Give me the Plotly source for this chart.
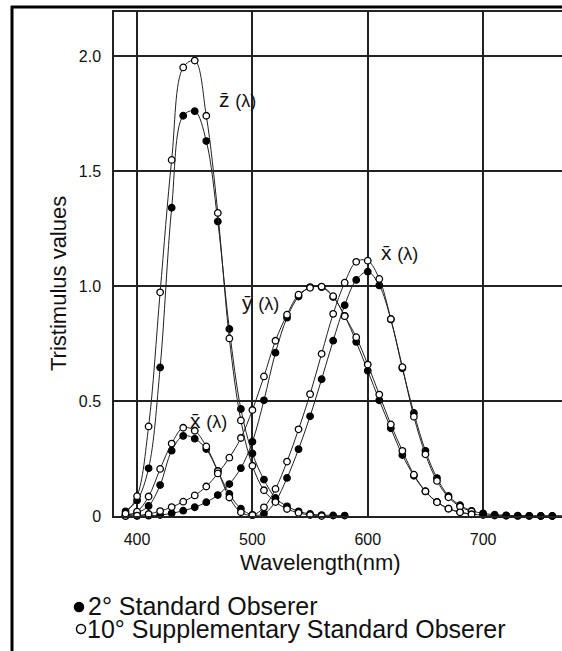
import plotly.graph_objects as go

# ---- data (10 nm steps) ----
wl2 = list(range(390, 790, 10))
x2 = [0.0042, 0.0143, 0.0435, 0.1344, 0.2839, 0.3483, 0.3362, 0.2908, 0.1954, 0.0956,
      0.0320, 0.0049, 0.0093, 0.0633, 0.1655, 0.2904, 0.4334, 0.5945, 0.7621, 0.9163,
      1.0263, 1.0622, 1.0026, 0.8544, 0.6424, 0.4479, 0.2835, 0.1649, 0.0874, 0.0468,
      0.0227, 0.0114, 0.0058, 0.0029, 0.0014, 0.0007, 0.0003, 0.0002, 0.0001, 0.0000]
y2 = [0.0001, 0.0004, 0.0012, 0.0040, 0.0116, 0.0230, 0.0380, 0.0600, 0.0910, 0.1390,
      0.2080, 0.3230, 0.5030, 0.7100, 0.8620, 0.9540, 0.9950, 0.9950, 0.9520, 0.8700,
      0.7570, 0.6310, 0.5030, 0.3810, 0.2650, 0.1750, 0.1070, 0.0610, 0.0320, 0.0170,
      0.0082, 0.0041, 0.0021, 0.0010, 0.0005, 0.0002, 0.0001, 0.0001, 0.0000, 0.0000]
wlz2 = list(range(390, 590, 10))
z2 = [0.0201, 0.0679, 0.2074, 0.6456, 1.3400, 1.7400, 1.7600, 1.6300, 1.2800, 0.8130,
      0.4652, 0.2720, 0.1582, 0.0783, 0.0422, 0.0203, 0.0088, 0.0039, 0.0021, 0.0017]

wl10 = list(range(390, 700, 10))
x10 = [0.0024, 0.0191, 0.0847, 0.2045, 0.3147, 0.3837, 0.3707, 0.3023, 0.1956, 0.0805,
       0.0162, 0.0038, 0.0375, 0.1177, 0.2365, 0.3768, 0.5298, 0.7052, 0.8787, 1.0142,
       1.1050, 1.1100, 1.0305, 0.8563, 0.6475, 0.4316, 0.2683, 0.1526, 0.0813, 0.0409,
       0.0199]
y10 = [0.0003, 0.0020, 0.0088, 0.0214, 0.0387, 0.0621, 0.0895, 0.1282, 0.1852, 0.2536,
       0.3391, 0.4608, 0.6067, 0.7618, 0.8752, 0.9620, 0.9918, 0.9973, 0.9556, 0.8689,
       0.7774, 0.6583, 0.5280, 0.3981, 0.2835, 0.1798, 0.1076, 0.0603, 0.0318, 0.0159,
       0.0077]
wlz10 = list(range(390, 570, 10))
z10 = [0.0105, 0.0860, 0.3894, 0.9725, 1.5480, 1.9500, 1.9800, 1.7400, 1.3176, 0.7721,
       0.4153, 0.2185, 0.1120, 0.0607, 0.0305, 0.0137, 0.0040, 0.0000]

x_ticks = [400, 500, 600, 700]
x_tick_labels = ["400", "500", "600", "700"]
y_ticks = [0, 0.5, 1.0, 1.5, 2.0]
y_tick_labels = ["0", "0.5", "1.0", "1.5", "2.0"]

FONT = "Liberation Sans, Arial, sans-serif"
LINE = "#222222"

fig = go.Figure()

def add(xs, ys, filled):
    fig.add_trace(go.Scatter(
        x=xs, y=ys, mode="lines+markers",
        line=dict(color=LINE, width=1, shape="spline"),
        marker=dict(size=6.5, symbol="circle",
                    color="black" if filled else "white",
                    line=dict(color="black", width=1.3)),
        cliponaxis=False, showlegend=False, hoverinfo="skip"))

add(wl2, x2, True)
add(wl2, y2, True)
add(wlz2, z2, True)
add(wl10, x10, False)
add(wl10, y10, False)
add(wlz10, z10, False)

L, T, R, B = 114, 12, 562, 516
W, H = R - L, B - T

def px(x):
    return (x - L) / W

def py(y):
    return (B - y) / H

ann = []
lab_small = "<span style='font-size:18px'>(λ)</span>"
for txt, xnm, yv in [("z\u0304 ", 469, 1.81), ("y\u0304 ", 489, 0.93),
                     ("x\u0304 ", 610, 1.145), ("x\u0304 ", 444, 0.415)]:
    ann.append(dict(x=xnm, y=yv, xref="x", yref="y", text=txt + lab_small,
                    showarrow=False, xanchor="left", yanchor="middle",
                    font=dict(family=FONT, size=21, color="#111")))

ann.append(dict(x=px(320), y=py(562), xref="paper", yref="paper", text="Wavelength(nm)",
                showarrow=False, xanchor="center", yanchor="middle",
                font=dict(family=FONT, size=22, color="#111")))
ann.append(dict(x=px(58), y=py(284), xref="paper", yref="paper", text="Tristimulus values",
                showarrow=False, xanchor="center", yanchor="middle", textangle=-90,
                font=dict(family=FONT, size=22, color="#111")))
ann.append(dict(x=px(86), y=py(606), xref="paper", yref="paper",
                text="2° Standard Obserer",
                showarrow=False, xanchor="left", yanchor="middle",
                font=dict(family=FONT, size=25, color="#111")))
ann.append(dict(x=px(85), y=py(629), xref="paper", yref="paper",
                text="10° Supplementary Standard Obserer",
                showarrow=False, xanchor="left", yanchor="middle",
                font=dict(family=FONT, size=25, color="#111")))


def circ(cx, cy, r, fill):
    return dict(type="circle", xref="paper", yref="paper",
                x0=px(cx - r), x1=px(cx + r), y0=py(cy + r), y1=py(cy - r),
                fillcolor="black" if fill else "white",
                line=dict(color="black", width=1.5))


shapes = [
    dict(type="line", xref="paper", yref="paper", x0=px(12), x1=px(12), y0=py(6), y1=py(660),
         line=dict(color="black", width=3)),
    dict(type="line", xref="paper", yref="paper", x0=px(11), x1=px(570), y0=py(7), y1=py(7),
         line=dict(color="black", width=3)),
    circ(79, 607, 4.5, True),
    circ(81, 629, 4.5, False),
]

fig.update_layout(
    width=562, height=651,
    margin=dict(l=L, r=562 - R, t=T, b=651 - B, pad=0),
    paper_bgcolor="white", plot_bgcolor="white",
    font=dict(family=FONT, size=16, color="#111"),
    annotations=ann, shapes=shapes,
    xaxis=dict(range=[380, 768.4], tickvals=x_ticks, ticktext=x_tick_labels,
               showgrid=True, gridcolor="#222", gridwidth=1.5,
               showline=True, linecolor="#222", linewidth=1.5, mirror=True,
               ticks="", zeroline=False, ticklabelstandoff=8,
               tickfont=dict(family=FONT, size=16, color="#111")),
    yaxis=dict(range=[0, 2.191], tickvals=y_ticks, ticktext=y_tick_labels,
               showgrid=True, gridcolor="#222", gridwidth=1.5,
               showline=True, linecolor="#222", linewidth=1.5,
               ticks="", zeroline=False, ticklabelstandoff=8,
               tickfont=dict(family=FONT, size=16, color="#111")),
)

fig.write_html("out.html")
